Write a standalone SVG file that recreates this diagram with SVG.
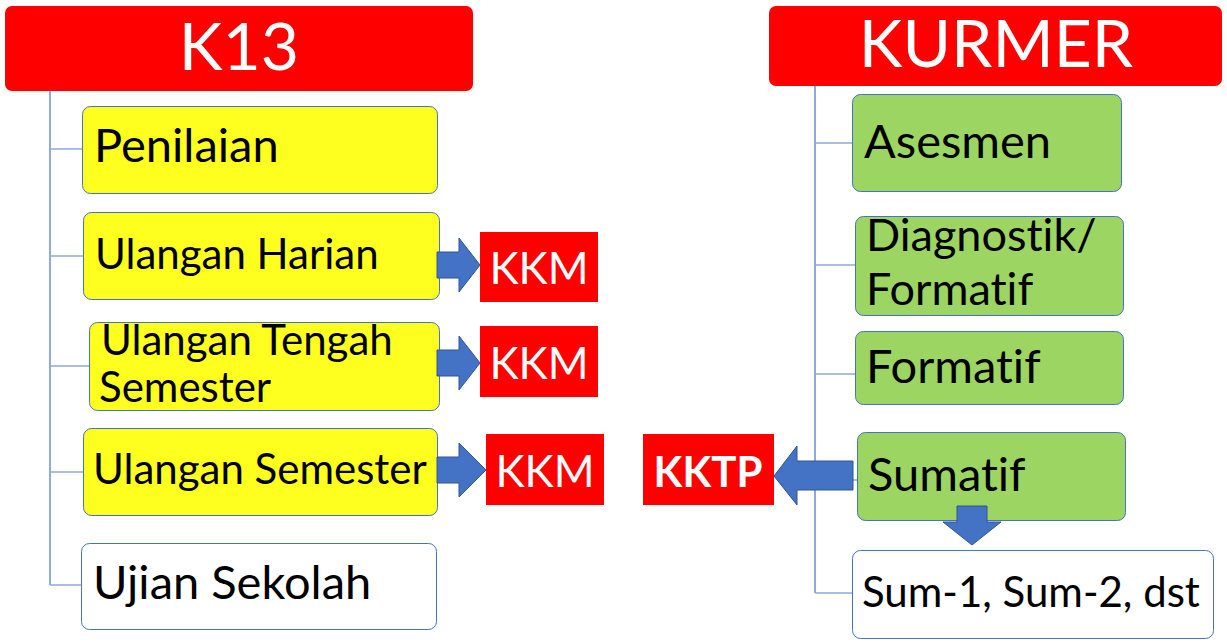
<svg xmlns="http://www.w3.org/2000/svg" width="1227" height="643" viewBox="0 0 1227 643">
<style>
text{font-family:Lato,"Liberation Sans",sans-serif;font-variant-ligatures:none}
.hdr{fill:#FF0000}
.hdrt{fill:#fff;font-size:66px;text-anchor:middle}
.yel{fill:#FFFF1F;stroke:#4472C4;stroke-width:1}
.grn{fill:#9DD563;stroke:#4472C4;stroke-width:1}
.wht{fill:#fff;stroke:#4472C4;stroke-width:1}
.t{fill:#000;font-size:42px}
.tl{fill:#000;font-size:47px}
.kkm{fill:#FF0000}
.kkmt{fill:#fff;font-size:44px;text-anchor:middle}
.kktpt{fill:#fff;font-size:42px;font-weight:bold;text-anchor:middle}
.ln{stroke:#4472C4;stroke-width:1.2;fill:none}
.br{stroke:#8EA9DB;stroke-width:1.5;fill:none}
.arr{fill:#4472C4;stroke:#2F5597;stroke-width:1}
</style>
<g id="connectors">
<line class="ln" x1="50" y1="91" x2="50" y2="585"/>
<line class="br" x1="50" y1="149" x2="82" y2="149"/>
<line class="br" x1="50" y1="256" x2="83" y2="256"/>
<line class="br" x1="50" y1="366" x2="89" y2="366"/>
<line class="br" x1="50" y1="472" x2="83" y2="472"/>
<line class="br" x1="50" y1="585" x2="81" y2="585"/>
<line class="ln" x1="815" y1="86" x2="815" y2="593"/>
<line class="br" x1="815" y1="143" x2="852" y2="143"/>
<line class="br" x1="815" y1="265" x2="855" y2="265"/>
<line class="br" x1="815" y1="374" x2="855" y2="374"/>
<line class="br" x1="815" y1="480" x2="857" y2="480"/>
<line class="br" x1="815" y1="593" x2="852" y2="593"/>
</g>
<g id="k13">
<rect class="hdr" x="5" y="6" width="468" height="85" rx="7"/>
<text class="hdrt" x="239" y="70">K13</text>
</g>
<g id="penilaian">
<rect class="yel" x="82.5" y="106.5" width="355" height="87" rx="8"/>
<text class="tl" x="94" y="162">Penilaian</text>
</g>
<g id="ulangan-harian">
<rect class="yel" x="83.5" y="212.5" width="356" height="87" rx="8"/>
<text class="t" x="95" y="269">Ulangan Harian</text>
</g>
<g id="uts">
<rect class="yel" x="89.5" y="322.5" width="350" height="88" rx="8"/>
<text class="t" x="101" y="355">Ulangan Tengah</text>
<text class="t" x="99" y="402">Semester</text>
</g>
<g id="ulangan-semester">
<rect class="yel" x="83.5" y="428.5" width="354" height="87" rx="8"/>
<text class="t" x="93" y="484">Ulangan Semester</text>
</g>
<g id="ujian-sekolah">
<rect class="wht" x="81.5" y="543.5" width="355" height="86" rx="8"/>
<text class="tl" x="93" y="599">Ujian Sekolah</text>
</g>
<g id="arrows-left">
<polygon class="arr" points="437,252 459,252 459,238 480,265 459,292 459,278 437,278"/>
<polygon class="arr" points="437,350 459,350 459,336 480,363 459,390 459,376 437,376"/>
<polygon class="arr" points="437,457 459,457 459,443 486,470 459,497 459,483 437,483"/>
</g>
<g id="kkm1">
<rect class="kkm" x="480" y="232" width="118" height="70"/>
<text class="kkmt" x="539" y="284">KKM</text>
</g>
<g id="kkm2">
<rect class="kkm" x="480" y="326" width="118" height="71"/>
<text class="kkmt" x="539" y="379">KKM</text>
</g>
<g id="kkm3">
<rect class="kkm" x="486" y="434" width="118" height="71"/>
<text class="kkmt" x="545" y="487">KKM</text>
</g>
<g id="kurmer">
<rect class="hdr" x="769" y="6" width="453" height="80" rx="7"/>
<text class="hdrt" x="996" y="67">KURMER</text>
</g>
<g id="asesmen">
<rect class="grn" x="852.5" y="94.5" width="269" height="97" rx="8"/>
<text class="tl" x="864" y="158">Asesmen</text>
</g>
<g id="diagnostik">
<rect class="grn" x="855.5" y="216.5" width="268" height="99" rx="8"/>
<text class="t" x="866" y="251" style="font-size:45px">Diagnostik/</text>
<text class="t" x="866" y="305" style="font-size:45px">Formatif</text>
</g>
<g id="formatif">
<rect class="grn" x="855.5" y="331.5" width="268" height="73" rx="8"/>
<text class="tl" x="866" y="383">Formatif</text>
</g>
<g id="sumatif">
<rect class="grn" x="857.5" y="432.5" width="268" height="88" rx="8"/>
<text class="tl" x="868" y="491">Sumatif</text>
</g>
<g id="kktp">
<rect class="kkm" x="643" y="434" width="131" height="71"/>
<text class="kktpt" x="708" y="487">KKTP</text>
</g>
<g id="arrows-right">
<polygon class="arr" points="853,461 797,461 797,446 774,476 797,505 797,490 853,490"/>
<polygon class="arr" points="957,506 987,506 987,522 1001,522 972,545 943,522 957,522"/>
</g>
<g id="sum">
<rect class="wht" x="852.5" y="550.5" width="361" height="88" rx="8"/>
<text class="t" x="862" y="607">Sum-1, Sum-2, dst</text>
</g>
</svg>
